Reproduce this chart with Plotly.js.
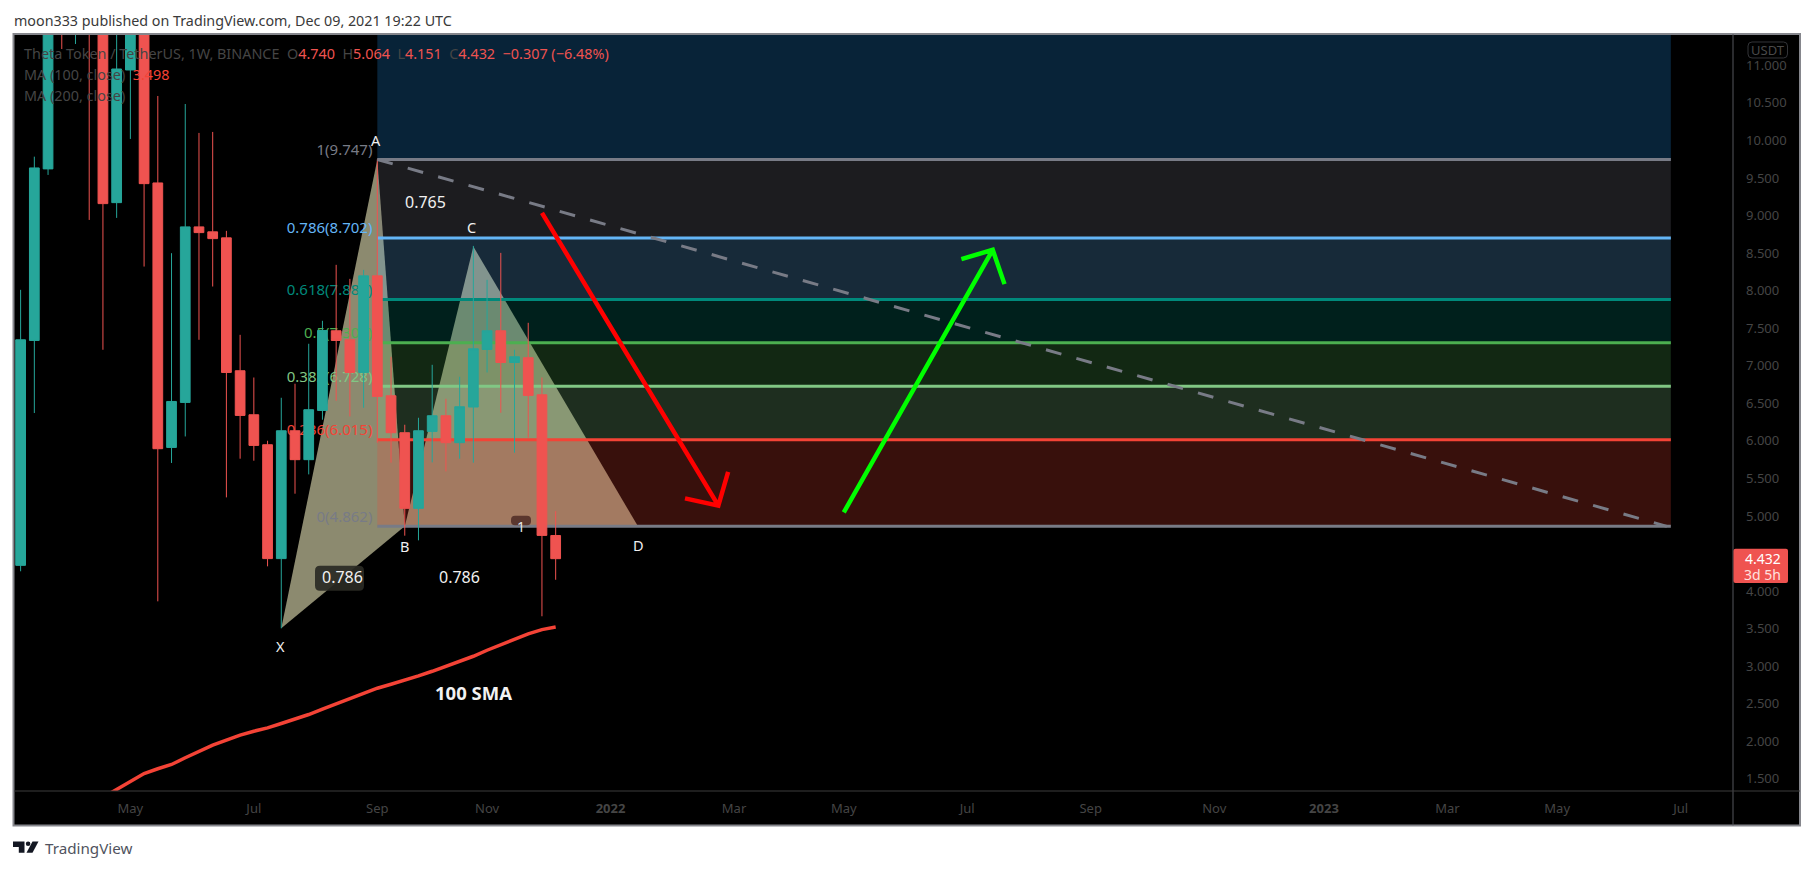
<!DOCTYPE html>
<html><head><meta charset="utf-8">
<script src="https://cdn.plot.ly/plotly-3.0.1.min.js"></script>
<style>html,body{margin:0;padding:0;background:#fff;overflow:hidden}</style></head>
<body><div id="chart" style="width:1813px;height:870px"></div>
<script>
const weeks = ["2021-03-08","2021-03-15","2021-03-22","2021-03-29","2021-04-05","2021-04-12","2021-04-19","2021-04-26","2021-05-03","2021-05-10","2021-05-17","2021-05-24","2021-05-31","2021-06-07","2021-06-14","2021-06-21","2021-06-28","2021-07-05","2021-07-12","2021-07-19","2021-07-26","2021-08-02","2021-08-09","2021-08-16","2021-08-23","2021-08-30","2021-09-06","2021-09-13","2021-09-20","2021-09-27","2021-10-04","2021-10-11","2021-10-18","2021-10-25","2021-11-01","2021-11-08","2021-11-15","2021-11-22","2021-11-29","2021-12-06"];
const opens  = [4.343,7.337,9.621,13.5,12.0,14.2,12.0,9.172,10.938,12.3,9.434,5.913,6.512,8.849,8.783,8.703,6.934,6.348,5.949,4.433,6.135,5.750,6.405,7.466,7.346,6.911,8.197,6.601,6.109,5.102,6.126,6.335,5.976,6.451,7.217,7.466,7.044,7.107,6.614,4.740];
const highs  = [8.011,9.784,12.6,14.0,14.0,15.0,13.0,11.8,13.0,13.0,10.592,8.499,10.485,10.100,10.113,8.796,7.412,6.844,6.002,6.574,6.761,7.293,7.599,8.344,8.157,8.277,9.747,7.120,6.215,6.308,7.013,6.561,6.854,8.596,8.144,8.503,7.213,7.572,6.844,5.064];
const lows   = [4.264,6.371,9.541,11.217,11.284,8.942,7.213,8.969,10.020,8.321,3.864,5.706,6.059,7.346,8.055,5.248,5.763,5.736,4.330,3.505,5.297,5.554,6.282,6.534,6.326,6.441,5.976,5.710,4.738,4.676,5.714,5.594,5.763,5.710,6.911,6.375,5.843,6.042,3.665,4.151];
const closes = [7.346,9.634,11.9,12.4,13.5,12.0,9.159,10.951,12.5,9.425,5.896,6.525,8.849,8.773,8.693,6.911,6.339,5.940,4.433,6.135,5.750,6.415,7.470,7.337,6.911,8.197,6.592,6.109,5.102,6.135,6.335,5.976,6.455,7.226,7.466,7.044,7.120,6.605,4.742,4.432];

const smaDates = weeks.slice(5);
const smaValues = [1.147,1.253,1.360,1.470,1.572,1.635,1.692,1.781,1.865,1.949,2.016,2.082,2.135,2.180,2.238,2.295,2.357,2.428,2.500,2.570,2.646,2.707,2.760,2.813,2.872,2.933,2.996,3.058,3.133,3.213,3.289,3.364,3.431,3.488,3.522];

const fibRatios = ["1","0.786","0.618","0.5","0.382","0.236","0"];
const fibLevels = [9.747,8.702,7.881,7.305,6.728,6.015,4.862];
const fibLineColors = ["#787b86","#64b5f6","#00897b","#4caf50","#81c784","#f44336","#787b86"];
const fibFillColors = ["rgba(120,123,134,0.23)","rgba(100,181,246,0.23)","rgba(0,137,123,0.23)","rgba(76,175,80,0.23)","rgba(129,199,132,0.23)","rgba(244,67,54,0.23)"];
const fibTopLevel = 12.766;
const fibTopFill = "rgba(33,150,243,0.23)";
const fibStart = "2021-09-06", fibEnd = "2023-06-28";
const fibLabelStart = "2021-09-03 12:00";

const patternDates = ["2021-07-19","2021-09-06","2021-09-20","2021-10-25","2022-01-17"];
const patternValues = [3.505,9.747,4.862,8.587,4.862];

const trendDates = [fibStart, "2023-06-26"];
const trendValues = [9.747, 4.862];

const redArrowDates = ["2021-11-29","2022-02-27","2022-02-10","2022-02-27","2022-03-04"];
const redArrowValues = [9.035,5.138,5.235,5.138,5.586];
const greenArrowDates = ["2022-05-02","2022-07-17","2022-07-01","2022-07-17","2022-07-23"];
const greenArrowValues = [5.048,8.543,8.420,8.543,8.087];

const xTickDates = ["2021-05-03","2021-07-05","2021-09-06","2021-11-01","2022-01-03","2022-03-07","2022-05-02","2022-07-04","2022-09-05","2022-11-07","2023-01-02","2023-03-06","2023-05-01","2023-07-03"];
const xTickLabels = ["May","Jul","Sep","Nov","<b>2022</b>","Mar","May","Jul","Sep","Nov","<b>2023</b>","Mar","May","Jul"];
const yTickValues = [1.5,2,2.5,3,3.5,4,4.5,5,5.5,6,6.5,7,7.5,8,8.5,9,9.5,10,10.5,11];
const yTickLabels = ["1.500","2.000","2.500","3.000","3.500","4.000","4.500","5.000","5.500","6.000","6.500","7.000","7.500","8.000","8.500","9.000","9.500","10.000","10.500","11.000"];

const FONT = '"Noto Sans", sans-serif';
const L = 14, T = 34, R = 1733, B = 791.5;
const fx = px => (px - L) / (R - L);
const fy = py => (B - py) / (B - T);

function note(text, px, py, size, color, extra) {
  return Object.assign({ text, xref:"paper", yref:"paper", x:fx(px), y:fy(py), showarrow:false,
    xanchor:"center", yanchor:"middle", font:{family:FONT,size,color}, borderpad:0 }, extra||{});
}
function pxRect(x0,y0,x1,y1,fill,line,layer,r) {
  r = r||0;
  const p = (x,y)=> fx(x)+" "+fy(y);
  const path = r ? `M ${p(x0+r,y0)} L ${p(x1-r,y0)} Q ${p(x1,y0)} ${p(x1,y0+r)} L ${p(x1,y1-r)} Q ${p(x1,y1)} ${p(x1-r,y1)} L ${p(x0+r,y1)} Q ${p(x0,y1)} ${p(x0,y1-r)} L ${p(x0,y0+r)} Q ${p(x0,y0)} ${p(x0+r,y0)} Z`
                 : `M ${p(x0,y0)} L ${p(x1,y0)} L ${p(x1,y1)} L ${p(x0,y1)} Z`;
  return {type:"path",xref:"paper",yref:"paper",path,fillcolor:fill,line:line||{width:0},layer:layer||"below"};
}

const shapes = [];
// black surround for both axis panes
shapes.push(pxRect(14,34,1800,826,"#000",{width:0},"below"));
// XAB and BCD triangles sit under the translucent fib bands
const triPath = idx => "M "+idx.map(i=>patternDates[i]+" "+patternValues[i]).join(" L ")+" Z";
[[0,1,2],[2,3,4]].forEach(t=>shapes.push({type:"path",xref:"x",yref:"y",path:triPath(t),fillcolor:"#8c8a6f",line:{width:0},layer:"below"}));
// fib fills
shapes.push({type:"rect",xref:"x",yref:"y",x0:fibStart,x1:fibEnd,y0:fibLevels[0],y1:fibTopLevel,fillcolor:fibTopFill,line:{width:0},layer:"below"});
fibFillColors.forEach((c,i)=>shapes.push({type:"rect",xref:"x",yref:"y",x0:fibStart,x1:fibEnd,y0:fibLevels[i+1],y1:fibLevels[i],fillcolor:c,line:{width:0},layer:"below"}));
// fib lines
fibLevels.forEach((v,i)=>shapes.push({type:"line",xref:"x",yref:"y",x0:fibStart,x1:fibEnd,y0:v,y1:v,line:{color:fibLineColors[i],width:3},layer:"below"}));
// fib labels as shape labels, so the candles pass over them
fibLevels.forEach((v,i)=>shapes.push({type:"line",xref:"x",yref:"y",x0:fibLabelStart,x1:fibEnd,y0:v+0.126,y1:v+0.126,line:{width:0},layer:"below",
  label:{text:`${fibRatios[i]}(${v.toFixed(3)})`,textposition:"start",xanchor:"right",yanchor:"middle",padding:0,font:{family:FONT,size:15,color:fibLineColors[i]}}}));
// badges
shapes.push(pxRect(315,566,364,591,"rgba(42,42,36,0.92)",{width:0},"above",5));
shapes.push(pxRect(511,516,531,525.5,"#5b372e",{width:0},"above",4));
// frame and panes
shapes.push(pxRect(13.5,34,1800,826,"rgba(0,0,0,0)",{color:"#85868c",width:2},"above"));
shapes.push({type:"line",xref:"paper",yref:"paper",x0:fx(1733),x1:fx(1733),y0:fy(34),y1:fy(826),line:{color:"#55565c",width:1},layer:"above"});
shapes.push({type:"line",xref:"paper",yref:"paper",x0:fx(14),x1:fx(1800),y0:fy(791.5),y1:fy(791.5),line:{color:"#3c3c3c",width:1},layer:"above"});
// price label and USDT badge
shapes.push(pxRect(1733.5,549,1788,583.3,"#ef5350",{width:0},"above",2));
shapes.push(pxRect(1748,42,1787.5,58,"#000",{color:"#333438",width:1},"above",4));
// TradingView logo
const lp = (x,y)=>fx(x)+" "+fy(y);
shapes.push({type:"path",xref:"paper",yref:"paper",fillcolor:"#131722",line:{width:0},layer:"above",
  path:`M ${lp(13,842)} L ${lp(24.5,842)} L ${lp(24.5,853.3)} L ${lp(18.8,853.3)} L ${lp(18.8,847.5)} L ${lp(13,847.5)} Z`});
shapes.push({type:"path",xref:"paper",yref:"paper",fillcolor:"#131722",line:{width:0},layer:"above",
  path:`M ${lp(32.5,842)} L ${lp(38.5,842)} L ${lp(32.5,853.3)} L ${lp(26.5,853.3)} Z`});
shapes.push({type:"circle",xref:"paper",yref:"paper",x0:fx(25.8),x1:fx(30.4),y0:fy(842),y1:fy(846.6),fillcolor:"#131722",line:{width:0},layer:"above"});

const dim = "#454545", red = "#ef5350", sp = "\u00a0\u00a0";
const legendTop = `Theta Token / TetherUS, 1W, BINANCE${sp}O<span style="color:${red}">4.740</span>${sp}H<span style="color:${red}">5.064</span>${sp}L<span style="color:${red}">4.151</span>${sp}C<span style="color:${red}">4.432</span>${sp}<span style="color:${red}">−0.307 (−6.48%)</span>`;
const annotations = [
  note("moon333 published on TradingView.com, Dec 09, 2021 19:22 UTC",13,20,14.3,"#3a3a3a",{xanchor:"left"}),
  note("TradingView",44,849,15.2,"#50535e",{xanchor:"left"}),
  note(legendTop,23,53.5,14.4,dim,{xanchor:"left"}),
  note(`MA (100, close)${sp}<span style="color:#f44336">3.498</span>`,23,75,14.4,dim,{xanchor:"left"}),
  note("MA (200, close)",23,96,14.4,dim,{xanchor:"left"}),
  note("A",375.6,140,14.5,"#f0f0f0"),
  note("B",404,546.7,14.5,"#f0f0f0"),
  note("C",471.7,226.7,14.5,"#f0f0f0"),
  note("D",638,545.8,14.5,"#f0f0f0"),
  note("X",280,646.7,14.5,"#f0f0f0"),
  note("0.765",425,201.7,16,"#f0f0f0"),
  note("0.786",342,577.7,16,"#f0f0f0"),
  note("0.786",459,577.7,16,"#f0f0f0"),
  note("1",521,526.7,14,"#e8e8e8"),
  note("<b>100 SMA</b>",473.7,692.5,18.5,"#f2f2f2"),
  note("USDT",1767.7,50,13,"#4a4a4a"),
  note("4.432",1762.5,559.3,14,"#ffffff"),
  note("3d 5h",1762.5,575,14,"#ffe0df")
];

const data = [
  {type:"candlestick",x:weeks,open:opens,high:highs,low:lows,close:closes,whiskerwidth:0,hoverinfo:"skip",
   increasing:{line:{color:"#26a69a",width:1},fillcolor:"#26a69a"},decreasing:{line:{color:"#ef5350",width:1},fillcolor:"#ef5350"}},
  {type:"scatter",mode:"lines",x:smaDates,y:smaValues,line:{color:"#f44336",width:3.5},hoverinfo:"skip"},
  {type:"scatter",mode:"lines",x:trendDates,y:trendValues,line:{color:"#787b86",width:3,dash:"16px,15.6px"},hoverinfo:"skip"},
  {type:"scatter",mode:"lines",x:redArrowDates,y:redArrowValues,line:{color:"#ff0000",width:4.5},hoverinfo:"skip"},
  {type:"scatter",mode:"lines",x:greenArrowDates,y:greenArrowValues,line:{color:"#00ff00",width:4.5},hoverinfo:"skip"}
];

const layout = {
  width:1813,height:870,showlegend:false,paper_bgcolor:"#ffffff",plot_bgcolor:"#000000",
  margin:{l:L,r:1813-R,t:T,b:870-B,pad:0},boxgap:0.29,boxgroupgap:0,
  font:{family:FONT,size:13,color:"#454545"},
  xaxis:{type:"date",range:["2021-03-04 15:00","2023-07-29 17:00"],showgrid:false,zeroline:false,showline:false,
    tickmode:"array",tickvals:xTickDates,ticktext:xTickLabels,ticks:"",ticklabelstandoff:8,rangeslider:{visible:false},
    tickfont:{family:FONT,size:13,color:"#454545"},automargin:false},
  yaxis:{type:"linear",side:"right",range:[1.339,11.417],showgrid:false,zeroline:false,showline:false,
    tickmode:"array",tickvals:yTickValues,ticktext:yTickLabels,ticks:"",ticklabelstandoff:12,
    tickfont:{family:FONT,size:13,color:"#454545"},automargin:false},
  shapes,annotations
};
Plotly.newPlot("chart",data,layout,{displayModeBar:false,staticPlot:true});
</script></body></html>
